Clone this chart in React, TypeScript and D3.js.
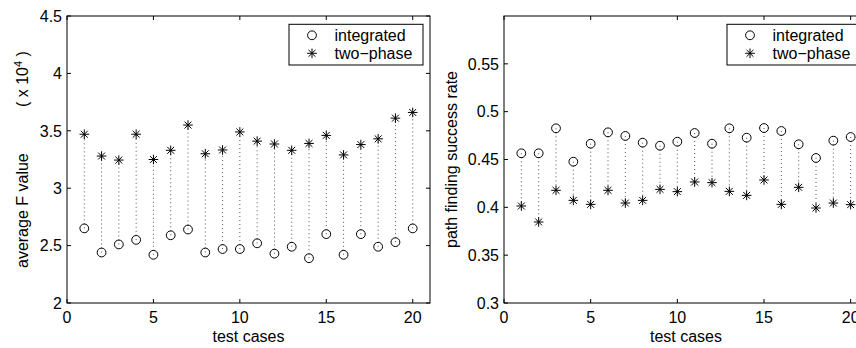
import React from "react";
import * as d3 from "d3";

const testCases = [1, 2, 3, 4, 5, 6, 7, 8, 9, 10, 11, 12, 13, 14, 15, 16, 17, 18, 19, 20];
const fIntegrated = [2.65, 2.44, 2.51, 2.55, 2.42, 2.59, 2.64, 2.44, 2.47, 2.47, 2.52, 2.43, 2.49, 2.39, 2.6, 2.42, 2.6, 2.49, 2.53, 2.65];
const fTwoPhase = [3.47, 3.28, 3.245, 3.47, 3.25, 3.33, 3.55, 3.3, 3.333, 3.49, 3.41, 3.385, 3.33, 3.39, 3.46, 3.29, 3.38, 3.43, 3.61, 3.66];
const rIntegrated = [0.4565, 0.4565, 0.4826, 0.4477, 0.4665, 0.4784, 0.4746, 0.4676, 0.4644, 0.4686, 0.4777, 0.4665, 0.4826, 0.4728, 0.4829, 0.4798, 0.4659, 0.4516, 0.4697, 0.4735];
const rTwoPhase = [0.4014, 0.3847, 0.4178, 0.4073, 0.4031, 0.4178, 0.4045, 0.4073, 0.4188, 0.4164, 0.4265, 0.4258, 0.4167, 0.4125, 0.4286, 0.4031, 0.4209, 0.3993, 0.4045, 0.4028];
const xTicks = [0, 5, 10, 15, 20];
const fTicks = [2, 2.5, 3, 3.5, 4, 4.5];
const rTicks = [0.3, 0.35, 0.4, 0.45, 0.5, 0.55];
const legendLabels = ["integrated", "two\u2212phase"];
const xLabel = "test cases";

const FONT = "'Liberation Sans', Arial, Helvetica, sans-serif";
const FS = 16;

function Star({ x, y, r }: { x: number; y: number; r: number }) {
  const d = r * 0.72;
  return (
    <g stroke="#000" strokeWidth={1}>
      <line x1={x - r} y1={y} x2={x + r} y2={y} />
      <line x1={x} y1={y - r} x2={x} y2={y + r} />
      <line x1={x - d} y1={y - d} x2={x + d} y2={y + d} />
      <line x1={x - d} y1={y + d} x2={x + d} y2={y - d} />
    </g>
  );
}

type PanelProps = {
  left: number;
  right: number;
  top: number;
  bottom: number;
  yDomain: [number, number];
  yTicks: number[];
  a: number[];
  b: number[];
  yLabel: React.ReactNode;
};

function Panel({ left, right, top, bottom, yDomain, yTicks, a, b, yLabel }: PanelProps) {
  const x = d3.scaleLinear().domain([0, 21]).range([left, right]);
  const y = d3.scaleLinear().domain(yDomain).range([bottom, top]);
  const tl = 4;
  const legW = 134;
  const legH = 40.7;
  const legX = right - 7 - legW;
  const legY = 24.3;
  return (
    <g fontFamily={FONT} fontSize={FS}>
      {testCases.map((c, i) => (
        <line
          key={"s" + i}
          x1={x(c)}
          x2={x(c)}
          y1={y(a[i])}
          y2={y(b[i])}
          stroke="#555"
          strokeWidth={1}
          strokeDasharray="1,3"
        />
      ))}
      {testCases.map((c, i) => (
        <circle key={"c" + i} cx={x(c)} cy={y(a[i])} r={4.4} fill="none" stroke="#000" strokeWidth={1} />
      ))}
      {testCases.map((c, i) => (
        <Star key={"t" + i} x={x(c)} y={y(b[i])} r={4.8} />
      ))}
      <rect x={left} y={top} width={right - left} height={bottom - top} fill="none" stroke="#000" strokeWidth={1} />
      {xTicks.map((t) => (
        <g key={"xt" + t}>
          <line x1={x(t)} x2={x(t)} y1={bottom} y2={bottom - tl} stroke="#000" />
          <line x1={x(t)} x2={x(t)} y1={top} y2={top + tl} stroke="#000" />
          <text x={x(t)} y={bottom + 20} textAnchor="middle">
            {String(t)}
          </text>
        </g>
      ))}
      {yTicks.map((t) => (
        <g key={"yt" + t}>
          <line x1={left} x2={left + tl} y1={y(t)} y2={y(t)} stroke="#000" />
          <line x1={right} x2={right - tl} y1={y(t)} y2={y(t)} stroke="#000" />
          <text x={left - 5} y={y(t)} dy="0.36em" textAnchor="end">
            {String(t)}
          </text>
        </g>
      ))}
      <text x={(left + right) / 2} y={bottom + 39} textAnchor="middle">
        {xLabel}
      </text>
      {yLabel}
      <rect x={legX} y={legY} width={legW} height={legH} fill="#fff" stroke="#000" strokeWidth={1} />
      <circle cx={legX + 23} cy={legY + 11} r={4.4} fill="none" stroke="#000" />
      <Star x={legX + 23} y={legY + 29} r={4.8} />
      <text x={legX + 45.5} y={legY + 16.5}>
        {legendLabels[0]}
      </text>
      <text x={legX + 45.5} y={legY + 34.5}>
        {legendLabels[1]}
      </text>
    </g>
  );
}

export default function App() {
  return (
    <svg
      width={856}
      height={348}
      style={{ position: "absolute", left: 0, top: 0, background: "#fff" }}
    >
      <rect width={856} height={348} fill="#fff" />
      <Panel
        left={67}
        right={430}
        top={16}
        bottom={303}
        yDomain={[2, 4.5]}
        yTicks={fTicks}
        a={fIntegrated}
        b={fTwoPhase}
        yLabel={
          <g fontFamily={FONT} fontSize={FS}>
            <text transform="translate(28,268) rotate(-90)" textAnchor="start">
              average F value
            </text>
            <text transform="translate(28,107) rotate(-90)" textAnchor="start">
              ( x 10
              <tspan dy="-6" fontSize={11}>
                4
              </tspan>
              <tspan dy="6"> )</tspan>
            </text>
          </g>
        }
      />
      <Panel
        left={504}
        right={868}
        top={16}
        bottom={303}
        yDomain={[0.3, 0.6]}
        yTicks={rTicks}
        a={rIntegrated}
        b={rTwoPhase}
        yLabel={
          <text transform="translate(457,159.5) rotate(-90)" textAnchor="middle" fontFamily={FONT} fontSize={FS}>
            path finding success rate
          </text>
        }
      />
    </svg>
  );
}
